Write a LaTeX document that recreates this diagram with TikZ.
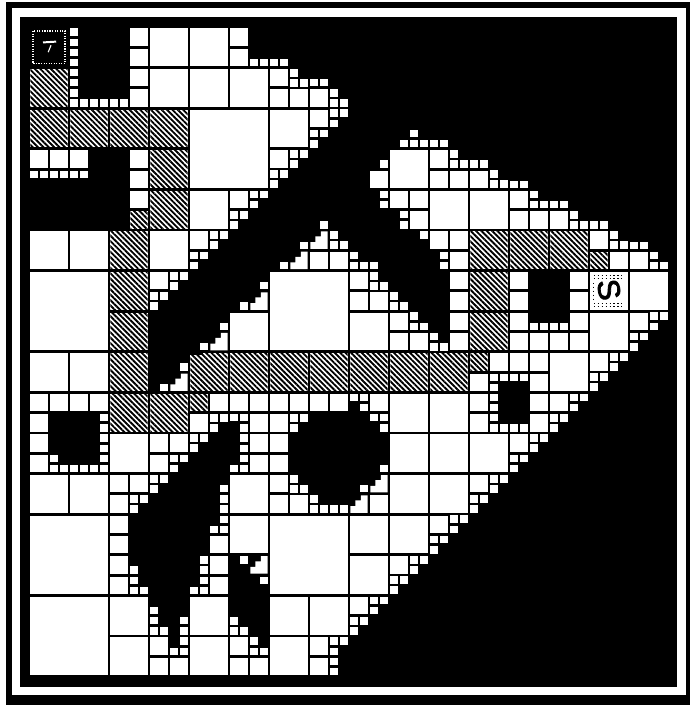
\documentclass[tikz,border=0pt]{standalone}
\usepackage{fontspec}
\usetikzlibrary{patterns.meta}
\newfontfamily\startfont[FakeBold=2.5]{Liberation Sans}

\newcommand{\cells}[2]{%
  \foreach \cx/\cy in {#2}
    \fill[cellfill] ({\cx+.035},{\cy+.035}) rectangle +({#1-.07},{#1-.07});}
\newcommand{\hatched}[2]{%
  \foreach \cx/\cy in {#2}
    \fill[hatchfill] ({\cx+.035},{\cy+.035}) rectangle +({#1-.07},{#1-.07});}
\newcommand{\stairL}[1]{% quarter cells, corner at top left
  \foreach \tx/\ty in {#1}
    \foreach \dx/\dy in {0/0,.25/0,0/.25}
      \fill[cellfill] ({\tx+\dx+.03},{\ty+\dy+.03}) rectangle +(.19,.19);}
\newcommand{\stairD}[1]{% quarter cells, corner at bottom left
  \foreach \tx/\ty in {#1}
    \foreach \dx/\dy in {0/0,0/.25,.25/.25}
      \fill[cellfill] ({\tx+\dx+.03},{\ty+\dy+.03}) rectangle +(.19,.19);}
\newcommand{\stair}[1]{% half cell and two quarter groups
  \foreach \sx/\sy in {#1} {
    \fill[cellfill] ({\sx+.035},{\sy+.035}) rectangle +(.43,.43);
    \stairL{{\sx+.5}/\sy,\sx/{\sy+.5}}
  }}
\newcommand{\cutcell}[1]{% half cell, stepped corner at top left
  \foreach \cx/\cy in {#1}
    \fill[cellfill] ({\cx+.3},{\cy+.035}) -- ({\cx+.465},{\cy+.035}) -- ({\cx+.465},{\cy+.465})
      -- ({\cx+.035},{\cy+.465}) -- ({\cx+.035},{\cy+.3}) -- ({\cx+.16},{\cy+.3})
      -- ({\cx+.16},{\cy+.16}) -- ({\cx+.3},{\cy+.16}) -- cycle;}

\begin{document}
\begin{tikzpicture}
  [x=1cm, y=-1.015cm,
   cellfill/.style={fill=white},
   hatchfill/.style={preaction={fill=white}, pattern={Lines[angle=-45,distance=2.7pt,line width=1.35pt]}, pattern color=black}]

  % frame
  \useasboundingbox (-.725,-.665) rectangle (16.525,16.7);
  \fill[black] (-.575,-.616) rectangle (16.525,16.7);
  \fill[white] (-.425,-.468) rectangle (16.425,16.453);
  \fill[black] (-.225,-.246) rectangle (16.2,16.256);

  % largest cells
  \cells{2}{4/2, 0/6, 6/6, 0/12, 6/12, 0/14}

  % unit cells
  \cells{1}{3/0, 4/0, 3/1, 4/1, 5/1, 6/2, 4/4, 0/5, 1/5, 3/5, 9/3, 10/4, 11/4,
            5/7, 8/7, 14/7, 15/6, 13/8, 0/8, 1/8, 2/10, 0/11, 1/11, 5/11, 5/12,
            9/9, 10/9, 9/10, 10/10, 11/10, 9/11, 10/11, 8/12, 9/12, 8/13,
            2/14, 2/15, 4/14, 4/15, 6/14, 7/14, 6/15}

  % half cells
  \cells{.5}{2.5/0, 2.5/.5, 2.5/1, 2.5/1.5, 5/0, 5/.5, 6/1, 6/1.5, 6.5/1.5, 7/1.5,
             0/3, .5/3, 1/3, 2.5/3, 2.5/3.5, 2.5/4, 7.5/5.5, 7/5.5,
             8.5/3.5, 10/3, 10/3.5, 10.5/3.5, 11/3.5,
             9/4, 9.5/4, 9.5/4.5, 12/4, 12/4.5, 12.5/4.5, 13/4.5,
             10/5, 10.5/5, 10.5/5.5, 10.5/6, 10.5/6.5, 10.5/7, 10.5/7.5,
             14/5, 14.5/5.5, 15/5.5, 12/6, 12/6.5, 12/7, 12/7.5,
             13.5/6, 13.5/6.5, 13.5/7, 13.5/7.5, 12.5/7.5, 13/7.5,
             8/6, 8/6.5, 8.5/6.5, 9/7, 9/7.5, 9.5/7.5, 15/7,
             11.5/8, 12/8, 12.5/8, 11/8.5, 11/9, 11/9.5,
             12.5/8.5, 12.5/9, 12.5/9.5,
             0/9, .5/9, 1/9, 1.5/9, 0/9.5, 0/10, 0/10.5,
             4.5/9, 5/9, 5.5/9, 6/9, 6.5/9, 7/9, 7.5/9, 8.5/9,
             5.5/9.5, 6/9.5, 5.5/10, 6/10, 5.5/10.5, 6/10.5,
             3/10, 3.5/10, 3/10.5, 2/11, 2.5/11, 2/11.5,
             6/11, 6/11.5, 6.5/11.5, 8.5/11.5, 2/12, 2/12.5, 2/13, 2/13.5,
             4.5/12.5, 4.5/13, 4.5/13.5, 9/13, 3/15, 3/15.5, 3.5/15.5,
             5/15, 5/15.5, 5.5/15.5, 7/15, 7/15.5, 11/11}
  \cutcell{3.5/8.5, 4.5/7.5, 5.5/6.5, 6.5/5.5, 7/5, 8/11.5, 8.5/11, 5.5/13}

  % quarter cells
  \cells{.25}{1/0, 1/.25, 1/.5, 1/.75, 1/1, 1/1.25, 1/1.5, 1/1.75,
              1.25/1.75, 1.5/1.75, 1.75/1.75, 2/1.75, 2.25/1.75,
              5.5/.75, 5.75/.75, 6/.75, 6.25/.75, 7/1.25, 7.25/1.25,
              0/3.5, .25/3.5, .5/3.5, .75/3.5, 1/3.5, 1.25/3.5,
              9.25/2.75, 9.5/2.75, 9.75/2.75, 10/2.75, 10.25/2.75, 9.5/2.5,
              8.75/3.25, 8.75/4, 8.75/4.25, 9.25/4.5, 9.25/4.75, 9.75/5,
              10.25/5.5, 10.25/5.75, 11/3.25, 11.25/3.25, 12/3.75, 12.25/3.75,
              13/4.25, 13.25/4.25, 14/4.75, 14.25/4.75, 15/5.25, 15.25/5.25,
              5.75/6.25, 5.25/6.75, 4.75/7.25, 4.25/7.75, 3.75/8.25, 3.25/8.75,
              6.25/5.75, 6.75/5.25, 7.25/4.75, 8.5/5.75,
              12.5/7.25, 12.75/7.25, 13/7.25, 13.25/7.25,
              11.5/8.5, 11.5/8.75, 11.5/9, 11.5/9.25, 11.5/9.5, 11.5/9.75,
              11.75/8.5, 12/8.5, 12.25/8.5, 11.75/9.75, 12/9.75, 12.25/9.75,
              .5/10.5, .5/10.75, .75/10.75, 1/10.75, 1.25/10.75, 1.5/10.75,
              1.75/9.5, 1.75/9.75, 1.75/10, 1.75/10.25, 1.75/10.5, 1.75/10.75,
              5.25/9.75, 5.25/10, 5.25/10.25, 5.25/10.5, 5.25/10.75, 5/10.75, 5/9.5, 5.25/9.5,
              4.75/11.25, 4.75/11.5, 4.75/11.75, 4.75/12, 4.5/12.25, 4.75/12.25,
              4.25/13, 4.25/13.25, 4.25/13.5, 4.25/13.75, 4/13.75,
              2.5/13.25, 2.5/13.5, 2.5/13.75, 2.75/13.75,
              3/14.25, 3/14.5, 3/14.75, 3.25/14.75,
              3.75/14.5, 3.75/14.75, 3.75/15, 3.5/15.25, 3.75/15.25,
              5.25/13, 5.75/13.5, 5.5/15.25, 5.75/15.25, 5.5/15,
              7/11.5, 7/11.75, 7.25/11.75, 7.5/11.75, 7.75/11.75, 8.25/11.25, 8.75/10.75,
              8/9, 8.25/9, 8.25/9.25, 8.5/9.5, 8.75/9.5, 8.75/9.75,
              7.5/15, 7.5/15.25, 7.5/15.5, 7.5/15.75, 7.75/15}
  \stairL{2.5/11.5, 3/11, 3.5/10.5, 4/10, 4.5/9.5, 6.5/9.5, 9/13.5, 9.5/13, 11.5/11, 11/11.5}
  \stairD{6.5/1, 7.5/1.5, 10.5/3, 11.5/3.5, 12.5/4, 13.5/4.5, 14.5/5, 15.5/5.5,
          7.5/5, 8/5.5, 8.5/6, 9/6.5, 9.5/7, 10/7.5, 5/14.5, 6.5/11}
  \stair{7/2, 6/3, 5/4, 4/5, 3/6, 14/8, 13/9, 12/10, 10/12, 8/14, 15/7, 4/9.5}

  % cells of the path
  \hatched{1}{0/1, 0/2, 1/2, 2/2, 3/2, 3/3, 3/4, 2/5, 2/6, 2/7, 2/8, 2/9, 3/9,
              4/8, 5/8, 6/8, 7/8, 8/8, 9/8, 10/8, 11/5, 12/5, 13/5, 11/6, 11/7}
  \hatched{.5}{2.5/4.5, 4/9, 11/8, 14/5.5}
  \fill[black] (4,8) rectangle (4.35,8.07);

  % goal cell
  \draw[white, densely dotted, thick] (.1,.1) rectangle (.9,.9);
  \draw[white, line width=1.4pt] (.35,.38) -- (.68,.36);
  \draw[white, line width=.8pt] (.55,.45) -- (.48,.62);

  % start cell
  \fill[white] (14.035,6.035) rectangle (14.965,6.965);
  \foreach \dy in {.12,.2,.8,.88} {
    \draw[black, dotted, thick] (14.12,6+\dy) -- (14.88,6+\dy);
  }
  \draw[black, dotted, thick] (14.12,6.3) -- (14.12,6.7);
  \node[inner sep=0pt] (start) at (14.5,6.47) {\rotatebox{-80}{\scalebox{2.2}{\startfont S}}};
\end{tikzpicture}
\end{document}
